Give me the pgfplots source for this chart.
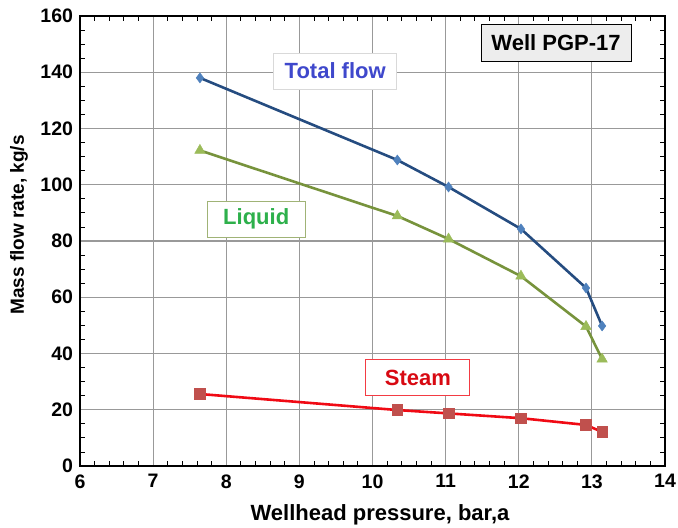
\documentclass[border=0pt]{standalone}
\usepackage{fontspec}
\setmainfont{Liberation Sans}
\usepackage{pgfplots}
\pgfplotsset{compat=1.18}
\definecolor{tfline}{HTML}{254C80}
\definecolor{tfmark}{HTML}{4F81BD}
\definecolor{liqline}{HTML}{77933C}
\definecolor{liqmark}{HTML}{9BBB59}
\definecolor{liqtext}{HTML}{2DB04B}
\definecolor{stline}{HTML}{F00A14}
\definecolor{stmark}{HTML}{C0504D}
\definecolor{tftext}{HTML}{3F48CC}
\begin{document}
\begin{tikzpicture}
\begin{axis}[
  scale only axis,
  width=585pt, height=450pt,
  xmin=6, xmax=14, ymin=0, ymax=160,
  xtick={6,...,14}, ytick={0,20,...,160},
  xticklabels={\textbf{6},\textbf{7},\textbf{8},\textbf{9},\textbf{10},\textbf{11},\textbf{12},\textbf{13},\textbf{14}},
  yticklabels={\textbf{0},\textbf{20},\textbf{40},\textbf{60},\textbf{80},\textbf{100},\textbf{120},\textbf{140},\textbf{160}},
  minor x tick num=4, minor y tick num=3,
  tick align=inside,
  major tick length=0pt, minor tick length=5pt,
  tick style={black, line width=0.8pt},
  grid=major,
  major grid style={color=black!40, line width=1.2pt},
  axis line style={black, line width=2.5pt},
  tick label style={font=\fontsize{19.5}{23}\selectfont\bfseries},
  xticklabel style={yshift=-5pt},
  yticklabel style={xshift=-3.5pt},
  xlabel={Wellhead pressure, bar,a},
  ylabel={Mass flow rate, kg/s},
  xlabel style={font=\fontsize{22}{26}\selectfont\bfseries, at={(axis description cs:0.5128,-0.1089)}, anchor=center},
  ylabel style={font=\fontsize{19}{23}\selectfont\bfseries, at={(axis description cs:-0.1043,0.5356)}, anchor=center, rotate=0},
  clip=false,
]
\addplot[tfline, line width=2.6pt, mark=diamond*, mark size=5pt,
  mark options={fill=tfmark, draw=tfmark, line width=0.5pt}]
  coordinates {(7.64,138) (10.34,108.8) (11.04,99.2) (12.03,84.3) (12.92,63.3) (13.14,49.8)};
\addplot[liqline, line width=2.6pt, mark=triangle*, mark size=6pt,
  mark options={fill=liqmark, draw=liqmark, line width=0.5pt}]
  coordinates {(7.64,112.2) (10.34,88.9) (11.04,80.7) (12.03,67.5) (12.92,49.6) (13.14,38)};
\addplot[stline, line width=2.6pt, mark=square*, mark size=5.3pt,
  mark options={fill=stmark, draw=stmark, line width=0.5pt}]
  coordinates {(7.64,25.6) (10.34,19.9) (11.04,18.7) (12.03,17) (12.92,14.6) (13.14,12.1)};
\node[draw=black!15, fill=white, line width=1pt, minimum width=123pt, minimum height=36pt,
  text=tftext, font=\fontsize{22}{26}\selectfont\bfseries] at (axis cs:9.49,140.4) {Total flow};
\node[draw=liqline!70, fill=white, line width=1pt, minimum width=98pt, minimum height=36pt,
  text=liqtext, font=\fontsize{22}{26}\selectfont\bfseries] at (axis cs:8.41,87.8) {Liquid};
\node[draw=stline!80, fill=white, line width=1pt, minimum width=104pt, minimum height=36pt,
  text=stline!90!black, font=\fontsize{22}{26}\selectfont\bfseries] at (axis cs:10.62,31.3) {Steam};
\node[draw=black, fill=black!7, line width=1pt, minimum width=150pt, minimum height=37pt,
  text=black, font=\fontsize{22}{26}\selectfont\bfseries] at (axis cs:12.51,150.4) {Well PGP-17};
\end{axis}
\pgfresetboundingbox
\path ([xshift=-80pt,yshift=-61pt]current axis.south west) rectangle ([xshift=13pt,yshift=16pt]current axis.north east);
\end{tikzpicture}
\end{document}
